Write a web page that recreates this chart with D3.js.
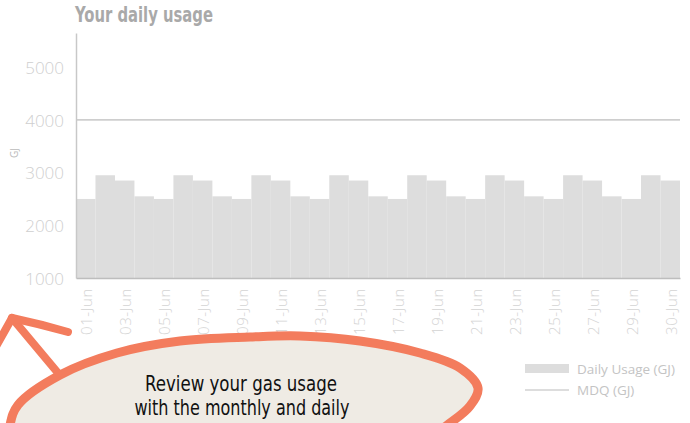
<!DOCTYPE html>
<html>
<head>
<meta charset="utf-8">
<script src="https://cdn.jsdelivr.net/npm/d3@7"></script>
<style>
  body { margin: 0; background: #fff; }
  svg { display: block; }
</style>
</head>
<body>
<svg id="chart" width="690" height="423"></svg>
<script>
// daily usage, one bar per day (last tick of the month shows on the 31st slot)
const dates = ["01-Jun","02-Jun","03-Jun","04-Jun","05-Jun","06-Jun","07-Jun","08-Jun","09-Jun","10-Jun",
  "11-Jun","12-Jun","13-Jun","14-Jun","15-Jun","16-Jun","17-Jun","18-Jun","19-Jun","20-Jun",
  "21-Jun","22-Jun","23-Jun","24-Jun","25-Jun","26-Jun","27-Jun","28-Jun","29-Jun","30-Jun","30-Jun"]
const usage = [2500,2950,2850,2550,2500,2950,2850,2550,2500,2950,
  2850,2550,2500,2950,2850,2550,2500,2950,2850,2550,
  2500,2950,2850,2550,2500,2950,2850,2550,2500,2950,2850]
const mdq = 4000
const yTicks = [1000,2000,3000,4000,5000]
const xTickIdx = [0,2,4,6,8,10,12,14,16,18,20,22,24,26,28,30]

const svg = d3.select('#chart')
const plotL = 76, plotR = 680, plotT = 33, plotB = 278
const lightFont = '"Open Sans", "Noto Sans", sans-serif'
const narrowFont = '"Liberation Sans Narrow", "DejaVu Sans Condensed", Roboto, sans-serif'

const x = d3.scaleBand().domain(d3.range(usage.length)).range([plotL,plotR]).padding(0)
const y = d3.scaleLinear().domain([1000,5650]).range([plotB,plotT])

// title
svg.append('text').attr('x',75).attr('y',22)
  .attr('font-family',narrowFont).attr('font-weight','bold').attr('font-size',21)
  .attr('fill','#a9a9a9').attr('textLength',138).attr('lengthAdjust','spacingAndGlyphs')
  .text('Your daily usage')

// bars
svg.append('g').selectAll('rect').data(usage).join('rect')
  .attr('x',(d,i)=>x(i)).attr('width',x.bandwidth())
  .attr('y',d=>y(d)).attr('height',d=>plotB-y(d))
  .attr('fill','#dddddd')

// MDQ line
svg.append('line').attr('x1',plotL).attr('x2',plotR).attr('y1',y(mdq)).attr('y2',y(mdq))
  .attr('stroke','#aaaaaa').attr('stroke-width',1)

// y axis
const yAxis = svg.append('g').attr('transform',`translate(${plotL},0)`)
  .call(d3.axisLeft(y).tickValues(yTicks).tickSize(0).tickPadding(12).tickFormat(d3.format('d')))
yAxis.select('.domain').attr('stroke','#c8c8c8').attr('stroke-width',1.5)
yAxis.selectAll('text').attr('font-family',lightFont).attr('font-weight',300)
  .attr('font-size',17).attr('fill','#cfcfcf').attr('dy','0.36em')

svg.append('text').attr('transform','translate(18,153) rotate(-90)')
  .attr('text-anchor','middle').attr('font-family',lightFont).attr('font-size',10)
  .attr('fill','#bbbbbb').text('GJ')

// x axis
const xAxis = svg.append('g').attr('transform',`translate(0,${plotB})`)
  .call(d3.axisBottom(x).tickValues(xTickIdx).tickSize(0).tickFormat(i=>dates[i]))
xAxis.select('.domain').attr('stroke','#bdbdbd').attr('stroke-width',1.5)
xAxis.selectAll('text')
  .attr('font-family',lightFont).attr('font-weight',300).attr('font-size',15).attr('fill','#d4d4d4')
  .attr('letter-spacing',0.6)
  .attr('transform','rotate(-90)').attr('text-anchor','end')
  .attr('x',-10).attr('y',1).attr('dy','0.36em')

// legend
const lg = svg.append('g').attr('font-family',lightFont).attr('font-size',13.5).attr('fill','#c4c4c4')
lg.append('rect').attr('x',525).attr('y',364).attr('width',44).attr('height',9).attr('fill','#dddddd')
lg.append('text').attr('x',577).attr('y',374).text('Daily Usage (GJ)')
lg.append('line').attr('x1',525).attr('x2',569).attr('y1',390).attr('y2',390)
  .attr('stroke','#bbbbbb').attr('stroke-width',1)
lg.append('text').attr('x',577).attr('y',395).text('MDQ (GJ)')

// callout bubble with arrow
const orange = '#f37c5d'
const bubble = [[8,470],[10,425],[18,405],[60,375],[117,353],[180,341],[250,337],[300,336],
  [360,341],[420,353],[460,368],[478,388],[470,406],[446,426],[380,470],[240,490],[80,490]]
svg.append('path').attr('d',d3.line().curve(d3.curveCatmullRomClosed)(bubble))
  .attr('fill','#efebe4').attr('stroke',orange).attr('stroke-width',9)

const arrow = svg.append('g').attr('fill','none').attr('stroke',orange)
  .attr('stroke-width',8).attr('stroke-linecap','round').attr('stroke-linejoin','round')
arrow.append('path').attr('d','M58,373 L12,318')
arrow.append('path').attr('d','M12,318 Q40,324 68,332')
arrow.append('path').attr('d','M12,318 L-6,350')

const ct = svg.append('g').attr('font-family',narrowFont).attr('font-size',22)
  .attr('fill','#111').attr('text-anchor','middle')
ct.append('text').attr('x',241).attr('y',391).attr('textLength',192)
  .attr('lengthAdjust','spacingAndGlyphs').text('Review your gas usage')
ct.append('text').attr('x',242).attr('y',415).attr('textLength',215)
  .attr('lengthAdjust','spacingAndGlyphs').text('with the monthly and daily')
</script>
</body>
</html>
